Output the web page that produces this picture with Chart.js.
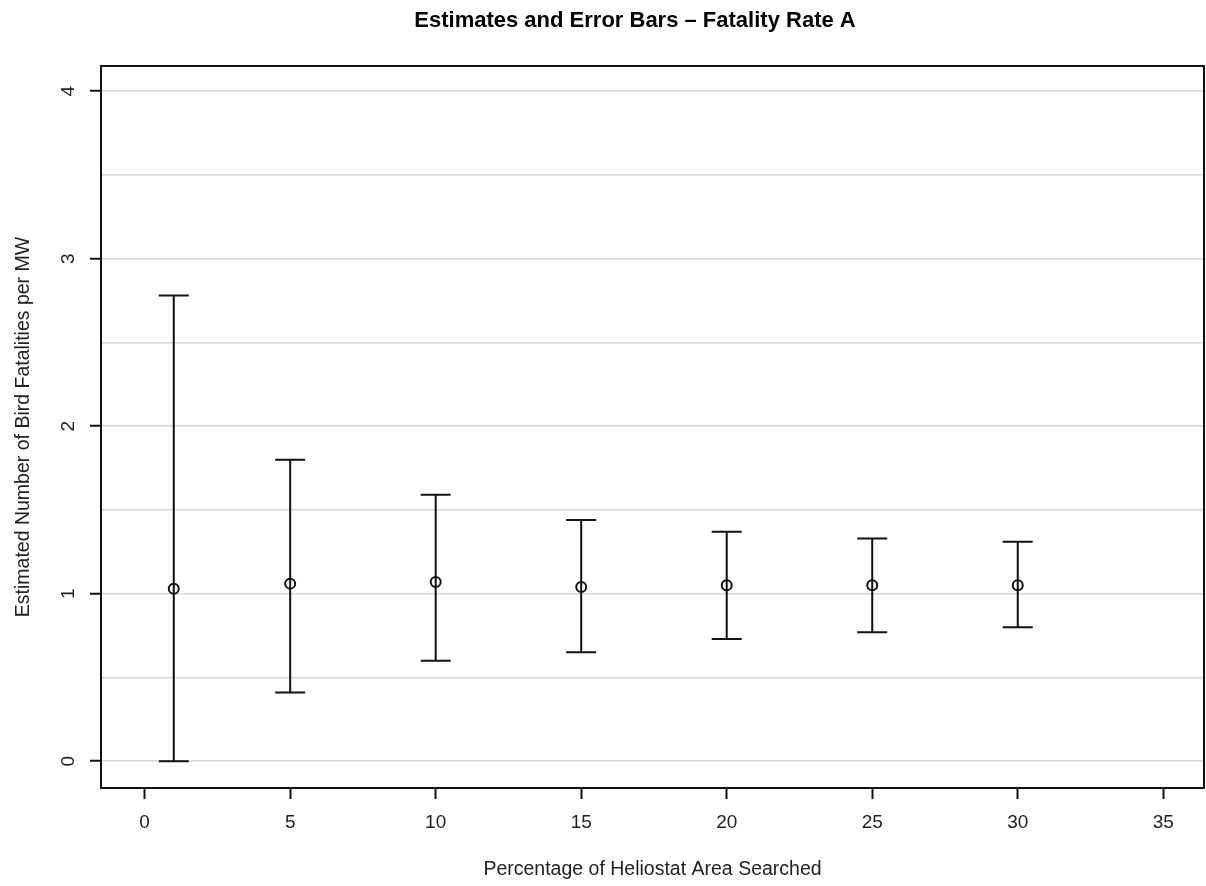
<!DOCTYPE html>
<html>
<head>
<meta charset="utf-8">
<script src="https://cdn.jsdelivr.net/npm/chart.js@4"></script>
<style>
  html, body { margin: 0; padding: 0; background: #fff; }
  #wrap { width: 1206px; height: 886px; }
</style>
</head>
<body>
<div id="wrap"><canvas id="fatality-chart"></canvas></div>
<script>
// valores
const pctSearched = [1, 5, 10, 15, 20, 25, 30];
const estimates = [1.03, 1.06, 1.07, 1.04, 1.05, 1.05, 1.05];
const upperBounds = [2.78, 1.80, 1.59, 1.44, 1.37, 1.33, 1.31];
const lowerBounds = [0.00, 0.41, 0.60, 0.65, 0.73, 0.77, 0.80];
const xTicks = [0, 5, 10, 15, 20, 25, 30, 35];
const yGridTicks = [0, 0.5, 1, 1.5, 2, 2.5, 3, 3.5, 4];
const yLabelTicks = [0, 1, 2, 3, 4];

const FONT = "'Liberation Sans', Arial, Helvetica, sans-serif";
const ctx = document.getElementById("fatality-chart");

// barras de erro + moldura + rótulos do eixo y
const errorBars = {
  id: "errorBars",
  beforeDatasetsDraw(chart) {
    const c = chart.ctx;
    const xs = chart.scales.x, ys = chart.scales.y;
    c.save();
    c.strokeStyle = "#111";
    c.lineWidth = 2;
    pctSearched.forEach((p, i) => {
      const px = xs.getPixelForValue(p);
      const top = ys.getPixelForValue(upperBounds[i]);
      const bot = ys.getPixelForValue(lowerBounds[i]);
      c.beginPath();
      c.moveTo(px, top); c.lineTo(px, bot);
      c.moveTo(px - 15, top); c.lineTo(px + 15, top);
      c.moveTo(px - 15, bot); c.lineTo(px + 15, bot);
      c.stroke();
    });
    c.restore();
  },
  afterDraw(chart) {
    const c = chart.ctx;
    const a = chart.chartArea;
    const ys = chart.scales.y;
    c.save();
    c.strokeStyle = "#111";
    c.lineWidth = 2;
    c.strokeRect(a.left, a.top, a.right - a.left, a.bottom - a.top);

    c.fillStyle = "#222";
    c.font = "19px " + FONT;
    c.textAlign = "center";
    c.textBaseline = "middle";
    yLabelTicks.forEach(v => {
      c.save();
      c.translate(69, ys.getPixelForValue(v));
      c.rotate(-Math.PI / 2);
      c.fillText(String(v), 0, 0);
      c.restore();
    });

    c.fillStyle = "#000";
    c.font = "bold 22px " + FONT;
    c.fillText("Estimates and Error Bars \u2013 Fatality Rate A", 635, 21);
    c.restore();
  }
};

new Chart(ctx, {
  type: "scatter",
  data: {
    datasets: [{
      label: "Estimate",
      data: pctSearched.map((p, i) => ({ x: p, y: estimates[i] })),
      pointStyle: "circle",
      pointRadius: 5,
      pointBorderWidth: 2,
      borderColor: "#111",
      backgroundColor: "rgba(0,0,0,0)"
    }]
  },
  options: {
    responsive: true,
    maintainAspectRatio: false,
    animation: false,
    layout: { autoPadding: false, padding: { top: 66, right: 2, left: 0, bottom: 0 } },
    plugins: {
      legend: { display: false },
      tooltip: { enabled: false },
      title: { display: false }
    },
    scales: {
      x: {
        type: "linear",
        min: -1.5,
        max: 36.4,
        afterBuildTicks: s => { s.ticks = xTicks.map(v => ({ value: v })); },
        afterFit: s => { s.height = 98; },
        grid: {
          drawOnChartArea: false,
          drawTicks: true,
          tickLength: 11,
          tickColor: "#111",
          tickWidth: 2
        },
        border: { display: true, color: "#111", width: 2 },
        ticks: {
          color: "#222",
          padding: 12,
          font: { family: FONT, size: 19 }
        },
        title: {
          display: true,
          text: "Percentage of Heliostat Area Searched",
          color: "#222",
          font: { family: FONT, size: 19.5 },
          padding: { top: 0, bottom: 5 }
        }
      },
      y: {
        type: "linear",
        min: -0.16,
        max: 4.15,
        afterBuildTicks: s => { s.ticks = yGridTicks.map(v => ({ value: v })); },
        afterFit: s => { s.width = 101; },
        grid: {
          color: "#d6d6d6",
          lineWidth: 1.5,
          drawTicks: true,
          tickLength: 11,
          tickWidth: 2,
          tickColor: c => (Number.isInteger(c.tick.value) ? "#111" : "rgba(0,0,0,0)")
        },
        border: { display: true, color: "#111", width: 2 },
        ticks: { display: false },
        title: {
          display: true,
          text: "Estimated Number of Bird Fatalities per MW",
          color: "#222",
          font: { family: FONT, size: 19.5 },
          padding: { top: 12, bottom: 0 }
        }
      }
    }
  },
  plugins: [errorBars]
});
</script>
</body>
</html>
